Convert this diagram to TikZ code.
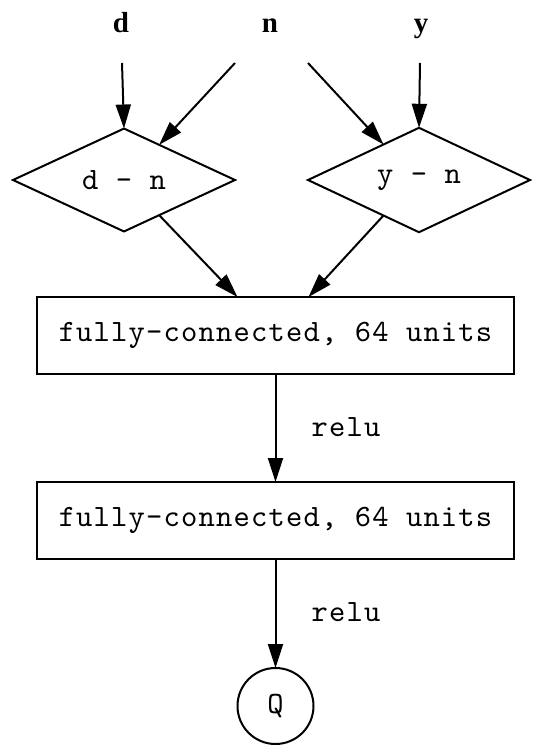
\documentclass[tikz,border=0pt]{standalone}
\usepackage{fontspec}
\setmainfont{Liberation Serif}
% thin serifed typewriter face, spaced out to a fixed advance
\newfontfamily\monof{lmmono10-regular.otf}[LetterSpace=3.9]
\usetikzlibrary{arrows.meta,shapes.geometric,calc}

\newcommand{\monotext}{\fontsize{31}{36}\selectfont\monof}

\begin{document}
\begin{tikzpicture}[x=1pt,y=-1pt,
  line width=2pt,
  edge/.style={-{Triangle[length=24pt,width=15pt]}},
  inp/.style={font=\fontsize{29}{33}\selectfont\bfseries, inner sep=0, anchor=base},
  op/.style={draw, diamond, minimum width=222pt, minimum height=76pt,
    inner sep=0, outer sep=0, font=\monotext},
  layer/.style={draw, rectangle, minimum width=477pt, minimum height=77pt,
    inner sep=0, outer sep=0, font=\monotext},
  outnode/.style={draw, circle, minimum size=76pt, inner sep=0, outer sep=0,
    font=\monotext},
  lbl/.style={font=\monotext, inner sep=0, anchor=base}]

\useasboundingbox (0,0) rectangle (535,745);

% inputs
\node[inp] (d) at (121,32) {d};
\node[inp] (n) at (270,32) {n};
\node[inp] (y) at (421,32) {y};

% differences
\node[op] (dn) at (124,180) {d - n};
\node[op] (yn) at (419,180) {y - n};

% dense layers and output
\node[layer] (fc1) at (275.5,335.5) {fully-connected, 64 units};
\node[layer] (fc2) at (275.5,520.5) {fully-connected, 64 units};
\node[outnode] (q) at (275.5,706) {Q};

% connectors
\draw[edge] ($(d.base)+(1,31)$) -- (dn.north);
\draw[edge] ($(n.base)+(-35,31)$) -- (dn.45);
\draw[edge] ($(n.base)+(38,31)$) -- (yn.135);
\draw[edge] ($(y.base)+(-1,31)$) -- (yn.north);
\draw[edge] (dn.-45) -- ($(fc1.north)+(-38,0)$);
\draw[edge] (yn.-135) -- ($(fc1.north)+(33,0)$);
\draw[edge] (fc1.south) -- (fc2.north);
\draw[edge] (fc2.south) -- (q.north);

% activation labels
\node[lbl] (r1) at (346,436) {relu};
\node[lbl] (r2) at (346,621) {relu};
\end{tikzpicture}
\end{document}
